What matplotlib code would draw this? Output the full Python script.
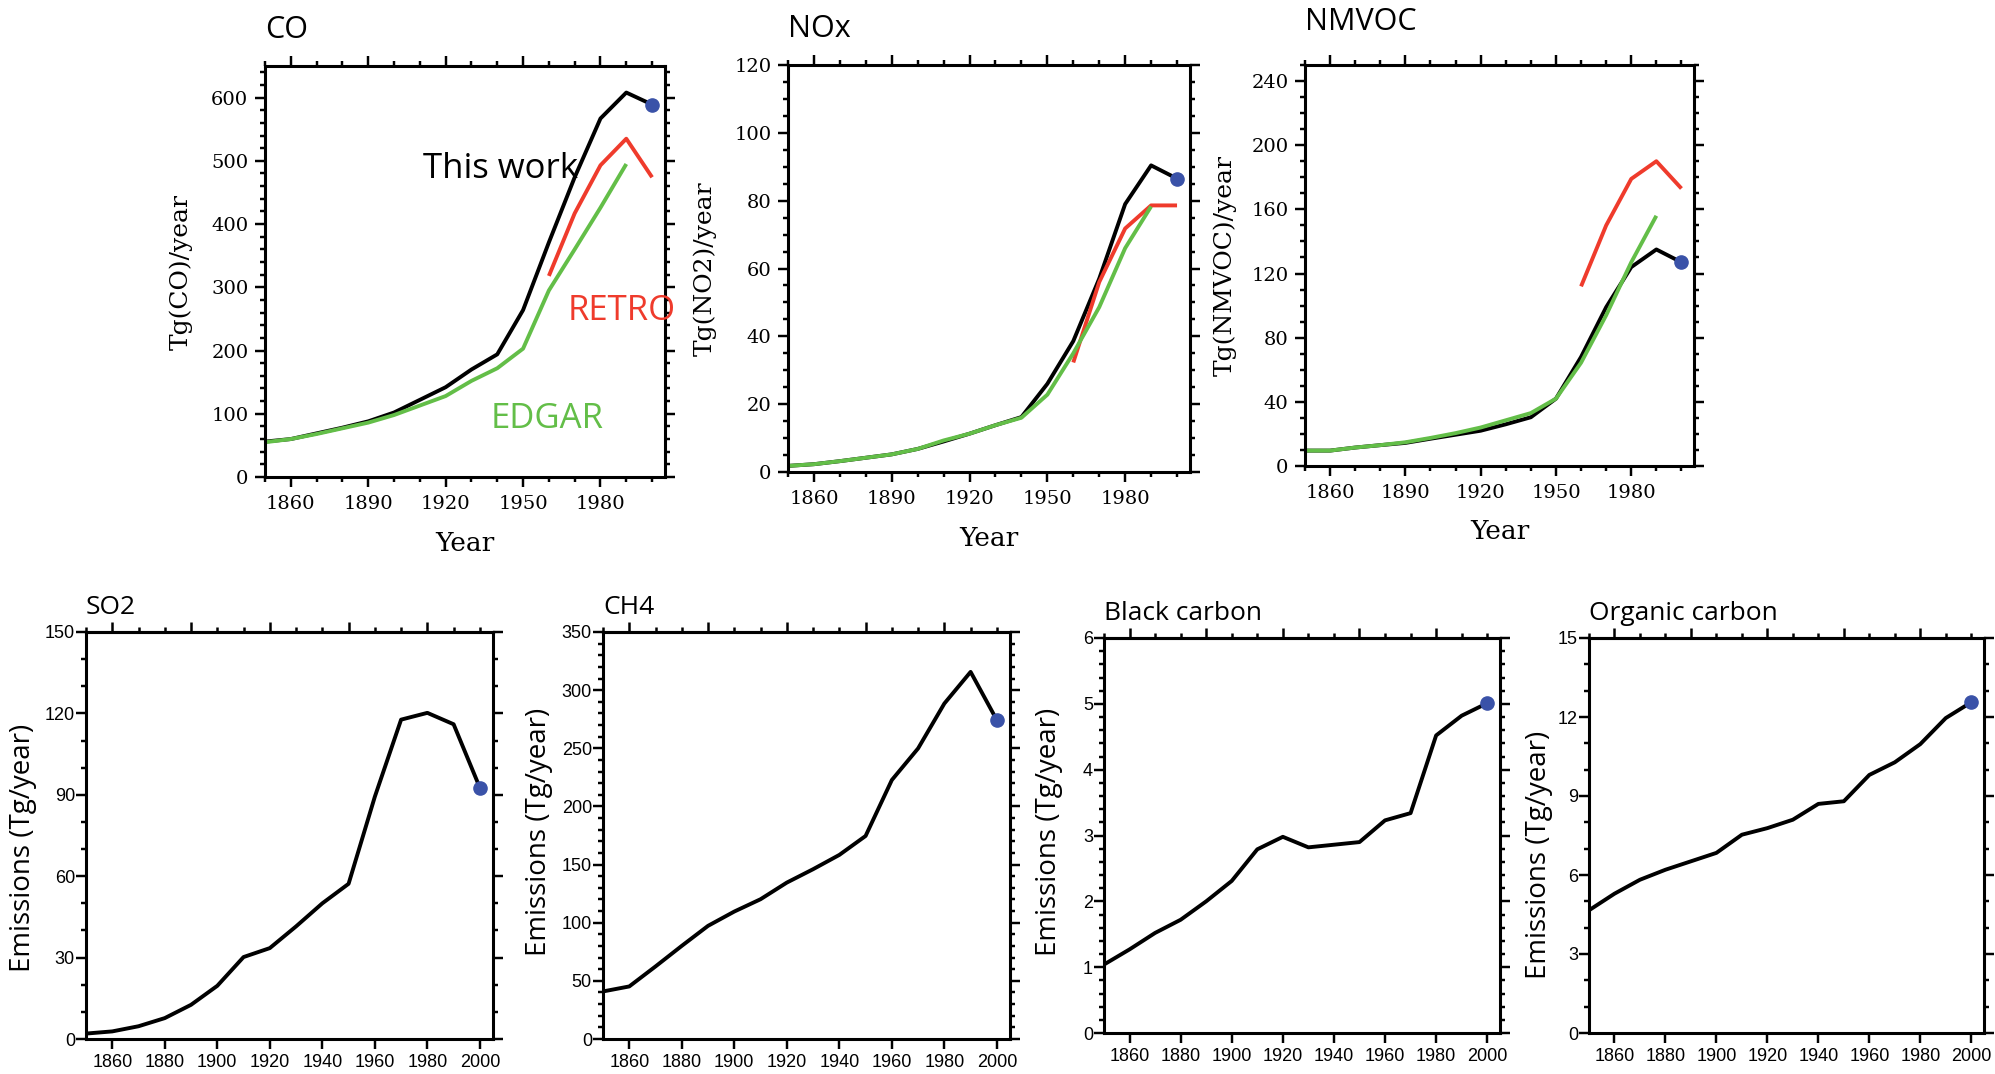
import matplotlib.pyplot as plt
import numpy as np

years = [1850, 1860, 1870, 1880, 1890, 1900, 1910, 1920, 1930, 1940, 1950, 1960, 1970, 1980, 1990, 2000]
years_edgar = years[:-1]
years_retro = [1960, 1970, 1980, 1990, 2000]

co_this = [56, 60, 69, 78, 88, 102, 122, 142, 170, 194, 264, 371, 474, 567, 608, 589]
co_edgar = [55, 60, 68, 77, 86, 98, 113, 128, 152, 172, 203, 295, 360, 426, 495]
co_retro = [318, 417, 493, 535, 474]

nox_this = [1.8, 2.3, 3.2, 4.2, 5.2, 6.8, 9.0, 11.3, 13.8, 16.2, 26, 38.6, 57, 79, 90.4, 86.5]
nox_edgar = [1.8, 2.3, 3.2, 4.2, 5.2, 6.8, 9.3, 11.3, 13.8, 16.0, 22.8, 35, 48.6, 66, 78.3]
nox_retro = [32.3, 56, 71.8, 78.6, 78.6]

nmvoc_this = [9.6, 9.6, 11.5, 13, 14.4, 17, 19.5, 22, 26, 30.4, 42, 68, 99, 124, 135, 127]
nmvoc_edgar = [9.6, 9.6, 11.5, 13, 14.8, 17.5, 20.5, 24, 28.5, 33, 42, 64.4, 94, 127, 156]
nmvoc_retro = [112, 150, 179, 190, 173]

so2 = [2, 2.8, 4.7, 7.7, 12.6, 19.6, 30.2, 33.5, 41.5, 50, 57.2, 89.3, 117.7, 120.2, 116, 92.6]
ch4 = [40.9, 45.2, 62.4, 80.1, 97.3, 109.6, 120.2, 134.5, 146, 158.3, 174.6, 222.7, 249.9, 288.5, 315.7, 274.2]
bc = [1.04, 1.27, 1.52, 1.72, 2.0, 2.31, 2.79, 2.98, 2.82, 2.86, 2.90, 3.23, 3.34, 4.52, 4.82, 5.01]
oc = [4.66, 5.29, 5.82, 6.2, 6.52, 6.84, 7.53, 7.78, 8.1, 8.7, 8.8, 9.8, 10.28, 10.97, 11.96, 12.56]

BLACK = "black"
RED = "#ef3b2c"
GREEN = "#63be48"
BLUE = "#3a52a8"
SANS = "Open Sans"
SERIF = "DejaVu Serif"
W, H = 1995, 1074

fig = plt.figure(figsize=(W / 100, H / 100), dpi=100)


def box(l, t, r, b):
    return [l / W, 1 - b / H, (r - l) / W, (b - t) / H]


def frame(ax, lw=2.2):
    for s in ax.spines.values():
        s.set_linewidth(lw)
    ax.tick_params(which="both", direction="out", width=lw * 0.8)
    ax.tick_params(which="major", length=7)
    ax.tick_params(which="minor", length=3.5)


# top row: CO, NOx, NMVOC
top = [
    ("CO", box(265, 66, 665, 477), co_this, co_edgar, co_retro, 650, 100, 20, "Tg(CO)/year", 36, -0.18),
    ("NOx", box(788, 65, 1190, 472), nox_this, nox_edgar, nox_retro, 120, 20, 5, "Tg(NO2)/year", 36, -0.177),
    ("NMVOC", box(1305, 65, 1694, 466), nmvoc_this, nmvoc_edgar, nmvoc_retro, 250, 40, 10, "Tg(NMVOC)/year", 43, -0.175),
]

for name, pos, this, edgar, retro, ymax, ymaj, ymin, ylab, tgap, lx in top:
    ax = fig.add_axes(pos)
    ax.plot(years, this, color=BLACK, lw=2.8, solid_capstyle="butt")
    ax.plot(years_retro, retro, color=RED, lw=2.8, solid_capstyle="butt")
    ax.plot(years_edgar, edgar, color=GREEN, lw=2.8, solid_capstyle="butt")
    ax.plot([years[-1]], [this[-1]], "o", color=BLUE, ms=9.5, zorder=5)
    ax.set_xlim(1850, 2005)
    ax.set_ylim(0, ymax)
    ax.set_xticks(np.arange(1860, 1990, 30))
    ax.set_xticks(np.arange(1850, 2006, 10), minor=True)
    ax.set_yticks(np.arange(0, ymax + 1, ymaj))
    ax.set_yticks(np.arange(0, ymax + 1, ymin), minor=True)
    frame(ax)
    ax.tick_params(which="both", top=True, right=True)
    ax.tick_params(axis="x", which="major", pad=6)
    ax.tick_params(axis="y", which="major", pad=5)
    for lb in ax.get_xticklabels() + ax.get_yticklabels():
        lb.set_family(SERIF)
        lb.set_fontsize(14)
    ax.set_xlabel("Year", family=SERIF, fontsize=19)
    ax.xaxis.set_label_coords(0.5, -0.132)
    ax.set_ylabel(ylab, family=SERIF, fontsize=18)
    ax.yaxis.set_label_coords(lx, 0.5)
    h = pos[3] * H
    ax.text(0, 1 + tgap / h, name, transform=ax.transAxes, family=SANS,
            fontsize=22, va="center", ha="left")
    if name == "CO":
        ax.text(0.395, 0.727, "This work", transform=ax.transAxes, family=SANS,
                fontsize=25, color=BLACK, va="baseline")
        ax.text(0.757, 0.381, "RETRO", transform=ax.transAxes, family=SANS,
                fontsize=25, color=RED, va="baseline")
        ax.text(0.565, 0.12, "EDGAR", transform=ax.transAxes, family=SANS,
                fontsize=25, color=GREEN, va="baseline")

# bottom row: SO2, CH4, Black carbon, Organic carbon
bottom = [
    ("SO2", box(86, 632, 493, 1039), so2, 150, 30, 10, -0.12, 0.47),
    ("CH4", box(603, 632, 1010, 1039), ch4, 350, 50, 10, -0.123, 0.51),
    ("Black carbon", box(1104, 638, 1500, 1033), bc, 6, 1, 0.2, -0.104, 0.51),
    ("Organic carbon", box(1589, 638, 1984, 1033), oc, 15, 3, 1, -0.091, 0.45),
]

for name, pos, vals, ymax, ymaj, ymin, lx, ly in bottom:
    ax = fig.add_axes(pos)
    ax.plot(years, vals, color=BLACK, lw=2.8)
    ax.plot([years[-1]], [vals[-1]], "o", color=BLUE, ms=9.5, zorder=5)
    ax.set_xlim(1850, 2005)
    ax.set_ylim(0, ymax)
    ax.set_xticks(np.arange(1860, 2001, 20))
    ax.set_yticks(np.arange(0, ymax + 1e-6, ymaj))
    ax.set_yticks(np.arange(0, ymax + 1e-6, ymin), minor=True)
    frame(ax)
    ax.tick_params(which="both", right=True)
    ax.tick_params(axis="x", which="major", pad=4)
    ax.tick_params(axis="y", which="major", pad=1)
    for lb in ax.get_xticklabels() + ax.get_yticklabels():
        lb.set_family("Liberation Sans")
        lb.set_fontsize(13)
    sec = ax.secondary_xaxis("top")
    sec.set_xticks(np.arange(1860, 2001, 30))
    sec.set_xticks(np.arange(1850, 2006, 10), minor=True)
    sec.tick_params(which="both", direction="out", width=1.8, labeltop=False)
    sec.tick_params(which="major", length=7)
    sec.tick_params(which="minor", length=3.5)
    sec.spines["top"].set_linewidth(2.2)
    ax.set_ylabel("Emissions (Tg/year)", family=SANS, fontsize=20)
    ax.yaxis.set_label_coords(lx, ly)
    h = pos[3] * H
    ax.text(0, 1 + 25 / h, name, transform=ax.transAxes, family=SANS,
            fontsize=19, va="center", ha="left")

plt.savefig("out.png", dpi=100)
